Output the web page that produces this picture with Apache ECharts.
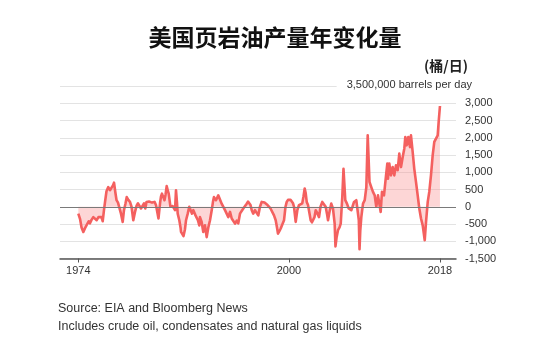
<!DOCTYPE html>
<html>
<head>
<meta charset="utf-8">
<script src="https://cdn.jsdelivr.net/npm/echarts@6/dist/echarts.min.js"></script>
<style>html,body{margin:0;padding:0;background:#fff}#c{width:550px;height:361px}</style>
</head>
<body>
<div id="c"></div>
<script>
var titleText = '美国页岩油产量年变化量';
var unitText = '(桶/日)';
var topTickText = '3,500,000 barrels per day';
var sourceLines = ['Source: EIA and Bloomberg News', 'Includes crude oil, condensates and natural gas liquids'];
var yTicks = [-1500, -1000, -500, 0, 500, 1000, 1500, 2000, 2500, 3000, 3500];
var xTickYears = [1974, 2000, 2018];

var years = [1974.00,1974.21,1974.40,1974.62,1974.83,1975.07,1975.28,1975.44,1975.63,1975.85,1976.06,1976.27,1976.49,1976.68,1976.86,1977.01,1977.17,1977.30,1977.48,1977.70,1977.91,1978.12,1978.28,1978.41,1978.57,1978.72,1978.90,1979.06,1979.27,1979.48,1979.64,1979.83,1979.98,1980.17,1980.38,1980.57,1980.79,1981.00,1981.21,1981.37,1981.53,1981.74,1981.95,1982.11,1982.27,1982.42,1982.57,1982.73,1982.91,1983.10,1983.28,1983.41,1983.59,1983.78,1983.90,1984.09,1984.21,1984.33,1984.49,1984.64,1984.77,1984.91,1985.07,1985.16,1985.32,1985.38,1985.65,1985.81,1985.94,1986.06,1986.19,1986.27,1986.47,1986.62,1986.68,1986.89,1986.99,1987.09,1987.17,1987.30,1987.51,1987.70,1987.85,1988.04,1988.20,1988.32,1988.47,1988.62,1988.78,1988.94,1989.02,1989.23,1989.43,1989.64,1989.85,1990.05,1990.26,1990.47,1990.63,1990.75,1991.00,1991.28,1991.49,1991.70,1991.90,1992.11,1992.32,1992.52,1992.73,1992.94,1993.14,1993.35,1993.56,1993.75,1993.96,1994.17,1994.37,1994.58,1994.79,1994.95,1995.11,1995.26,1995.41,1995.60,1995.81,1996.02,1996.22,1996.43,1996.64,1996.84,1996.99,1997.17,1997.36,1997.54,1997.73,1997.95,1998.16,1998.37,1998.53,1998.65,1998.84,1998.99,1999.21,1999.40,1999.58,1999.73,1999.89,2000.01,2000.20,2000.38,2000.51,2000.63,2000.84,2001.04,2001.25,2001.37,2001.65,2001.80,2001.95,2002.07,2002.20,2002.36,2002.48,2002.69,2002.85,2003.01,2003.16,2003.31,2003.53,2003.72,2003.90,2004.12,2004.33,2004.54,2004.70,2004.83,2005.01,2005.23,2005.44,2005.65,2005.75,2005.88,2006.06,2006.25,2006.40,2006.59,2006.74,2006.96,2007.17,2007.38,2007.54,2007.70,2007.85,2008.04,2008.32,2008.53,2008.63,2008.72,2008.81,2008.94,2009.15,2009.36,2009.56,2009.73,2009.95,2010.17,2010.38,2010.59,2010.79,2011.00,2011.21,2011.33,2011.49,2011.74,2011.86,2011.99,2012.15,2012.23,2012.40,2012.60,2012.81,2013.01,2013.22,2013.43,2013.63,2013.84,2014.05,2014.25,2014.37,2014.54,2014.74,2014.95,2015.07,2015.28,2015.48,2015.69,2015.90,2016.10,2016.31,2016.52,2016.62,2016.77,2016.93,2017.14,2017.33,2017.54,2017.75,2017.95,2018.16,2018.37,2018.49,2018.65];
var values = [-200,-350,-600,-730,-620,-600,-420,-480,-380,-300,-350,-390,-300,-250,-300,-420,-100,140,450,570,480,500,620,700,420,190,120,90,-200,-440,-100,100,280,200,140,0,-390,-150,40,100,140,-50,-50,100,-50,140,90,150,190,120,160,140,50,0,-340,100,300,380,280,190,350,600,450,380,100,0,20,50,-100,480,100,-200,-390,-600,-730,-780,-850,-830,-650,-390,-200,0,-50,-200,-100,-150,-250,-300,-400,-540,-300,-440,-730,-540,-880,-600,-390,-100,150,280,190,330,380,90,120,-100,-50,-300,-150,-340,-300,-490,-400,-480,-200,-150,-50,0,90,150,190,50,-100,-200,-100,-150,-250,0,140,190,120,100,50,0,-50,-100,-250,-390,-600,-780,-700,-630,-500,-390,0,140,200,240,200,150,100,0,-440,-100,50,90,100,300,530,400,140,50,0,-390,-450,-490,-300,-100,-200,-300,0,140,100,0,-200,-390,-150,90,-50,-490,-1150,-900,-680,-600,-490,280,1100,190,90,-50,-80,-100,0,140,190,240,-390,-1230,-700,-300,90,190,570,2070,720,570,430,330,0,330,280,-150,430,330,350,900,1250,810,1250,910,1150,910,1200,1060,1540,1150,1440,1690,2020,1780,2020,1730,2070,1590,1100,720,330,-50,-340,-540,-520,-970,-440,140,430,910,1490,1880,1880,2070,2460,2920];

var seriesData = years.map(function (y, i) { return [y, values[i]]; });

function fmt(v) { return String(v).replace(/\B(?=(\d{3})+(?!\d))/g, ','); }

var chart = echarts.init(document.getElementById('c'), null, { renderer: 'canvas' });
var font = 'Liberation Sans, Arial, Helvetica, sans-serif';
var xTickVals = [years[0], xTickYears[1], years[years.length - 1]];
chart.setOption({
  animation: false,
  backgroundColor: '#fff',
  grid: { left: 60, right: 94, top: 86, bottom: 102.5, containLabel: false },
  xAxis: {
    type: 'value',
    min: 1971.74,
    max: 2020.63,
    axisLine: { show: true, onZero: false, lineStyle: { color: '#555', width: 1.5 } },
    axisTick: { show: true, length: 4, lineStyle: { color: '#555' }, customValues: xTickVals },
    axisLabel: { show: true, color: '#333', fontSize: 11, fontFamily: font, margin: 7,
      customValues: xTickVals,
      formatter: function (v) { return String(Math.floor(v)); } },
    splitLine: { show: false }
  },
  yAxis: {
    type: 'value',
    position: 'right',
    min: yTicks[0],
    max: yTicks[yTicks.length - 1],
    interval: 500,
    axisLine: { show: false },
    axisTick: { show: false },
    axisLabel: { color: '#333', fontSize: 11, fontFamily: font, margin: 9,
      formatter: function (v) { return v === yTicks[yTicks.length - 1] ? '' : fmt(v); } },
    splitLine: { show: true, lineStyle: { color: '#e3e3e3', width: 1 } }
  },
  series: [{
    type: 'line',
    data: seriesData,
    showSymbol: false,
    symbol: 'none',
    lineStyle: { color: '#f4605f', width: 2.6, join: 'round' },
    areaStyle: { color: 'rgba(248,140,140,0.5)' },
    markLine: {
      silent: true, symbol: 'none', label: { show: false },
      lineStyle: { color: '#7a7a7a', width: 1, type: 'solid' },
      data: [{ yAxis: 0 }]
    },
    z: 3
  }],
  graphic: [
    { type: 'text', left: 'center', top: 26, style: { text: titleText, fontSize: 23, fontWeight: 'bold', fill: '#111', fontFamily: 'Noto Sans CJK SC, sans-serif' } },
    { type: 'text', right: 82, top: 59, style: { text: unitText, fontSize: 14, fontWeight: 'bold', fill: '#222', fontFamily: 'Noto Sans CJK SC, sans-serif' } },
    { type: 'text', right: 78, top: 79, z: 10, style: { text: topTickText, fontSize: 11, fill: '#333', fontFamily: font, backgroundColor: '#fff', padding: [0, 0, 0, 10] } },
    { type: 'text', left: 58, top: 302, style: { text: sourceLines[0], fontSize: 12.5, fill: '#333', fontFamily: font } },
    { type: 'text', left: 58, top: 320, style: { text: sourceLines[1], fontSize: 12.5, fill: '#333', fontFamily: font } }
  ]
});
</script>
</body>
</html>
